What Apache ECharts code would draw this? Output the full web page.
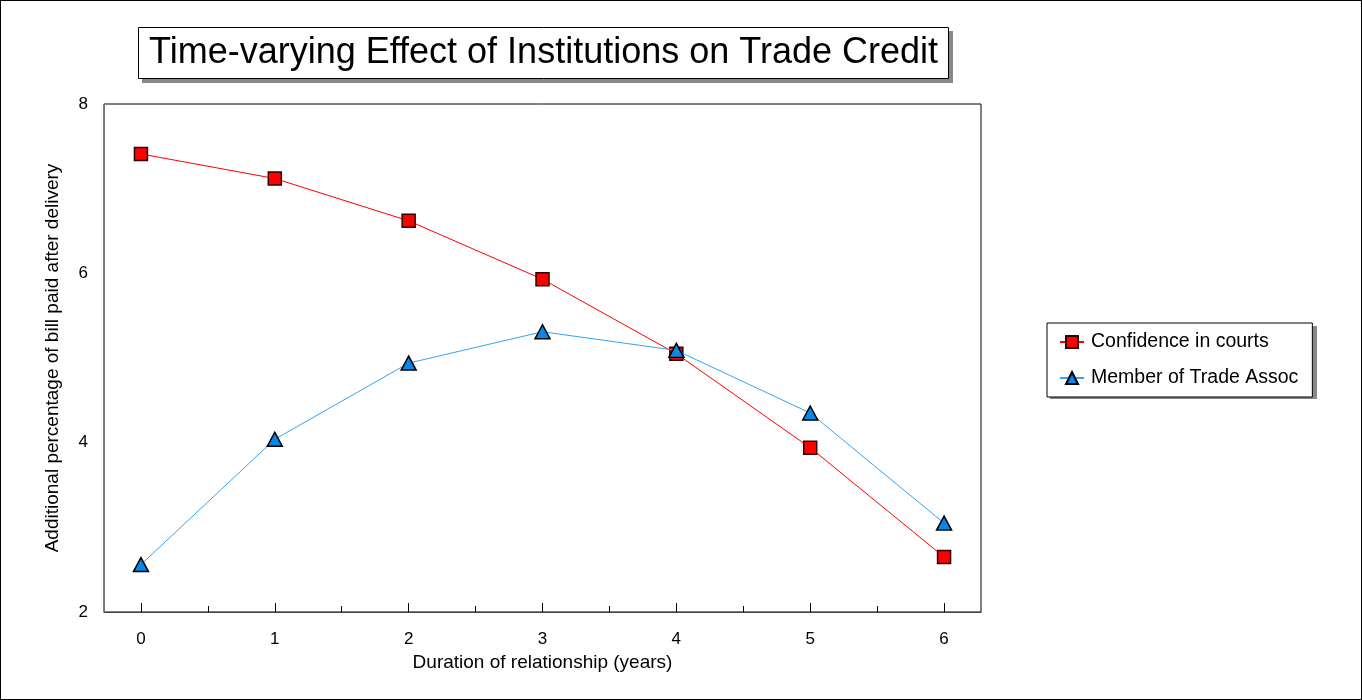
<!DOCTYPE html>
<html>
<head>
<meta charset="utf-8">
<script src="https://cdn.jsdelivr.net/npm/echarts@6/dist/echarts.min.js"></script>
<style>
html,body{margin:0;padding:0;background:#fff;}
#c{width:1360px;height:698px;border:1px solid #000;}
</style>
</head>
<body>
<div id="c"></div>
<script>
var years = [0, 1, 2, 3, 4, 5, 6];
var confidenceInCourts = [7.41, 7.12, 6.62, 5.93, 5.05, 3.94, 2.65];
var memberOfTradeAssoc = [2.56, 4.04, 4.94, 5.31, 5.09, 4.35, 3.05];
var xTickLabels = [0, 1, 2, 3, 4, 5, 6];
var xMinorTicks = [0.5, 1.5, 2.5, 3.5, 4.5, 5.5];
var yTickLabels = [2, 4, 6, 8];

function pairs(xs, ys) { return xs.map(function (x, i) { return [x, ys[i]]; }); }

var chart = echarts.init(document.getElementById('c'));
var font = 'Liberation Sans, Arial, sans-serif';
chart.setOption({
  animation: false,
  textStyle: { fontFamily: font },
  graphic: [
    { type: 'rect', z: 0, shape: { x: 141, y: 30, width: 811, height: 52 }, style: { fill: '#888' } },
    { type: 'rect', z: 0, shape: { x: 1049, y: 325, width: 267, height: 73 }, style: { fill: '#888' } }
  ],
  title: {
    text: 'Time-varying Effect of Institutions on Trade Credit',
    left: 137, top: 26,
    padding: [7, 11, 7, 11],
    borderColor: '#000', borderWidth: 1,
    backgroundColor: '#fff',
    z: 10,
    textStyle: { fontFamily: font, fontSize: 36, lineHeight: 38, fontWeight: 'normal', color: '#000' }
  },
  legend: {
    orient: 'vertical',
    left: 1046, top: 322,
    padding: [9, 14, 9, 12],
    itemGap: 16,
    itemWidth: 24, itemHeight: 15,
    borderColor: '#000', borderWidth: 1,
    backgroundColor: '#fff',
    z: 10,
    textStyle: { fontFamily: font, fontSize: 19.5, color: '#000', padding: [0, 0, 0, 2] },
    data: ['Confidence in courts', 'Member of Trade Assoc']
  },
  grid: {
    left: 103, top: 103, right: 380, bottom: 87,
    show: true, borderColor: '#000', borderWidth: 1, backgroundColor: '#fff'
  },
  xAxis: [{
    type: 'value', min: -0.276, max: 6.276,
    name: 'Duration of relationship (years)',
    nameLocation: 'middle', nameGap: 40,
    nameTextStyle: { fontFamily: font, fontSize: 19, color: '#000' },
    axisLine: { show: true, onZero: false, lineStyle: { color: '#444', width: 1 } },
    axisTick: { show: true, inside: true, length: 9, customValues: xTickLabels, lineStyle: { color: '#000' } },
    axisLabel: { customValues: xTickLabels, margin: 19, fontFamily: font, fontSize: 17, color: '#000' },
    splitLine: { show: false }
  }, {
    type: 'value', min: -0.276, max: 6.276, position: 'bottom',
    axisLine: { show: false, onZero: false },
    axisTick: { show: true, inside: true, length: 6, customValues: xMinorTicks, lineStyle: { color: '#000' } },
    axisLabel: { show: false },
    splitLine: { show: false }
  }],
  yAxis: {
    type: 'value', min: 2, max: 8, interval: 2,
    name: 'Additional percentage of bill paid after delivery',
    nameLocation: 'middle', nameGap: 42, nameRotate: 90,
    nameTextStyle: { fontFamily: font, fontSize: 19, color: '#000' },
    axisLine: { show: true, onZero: false, lineStyle: { color: '#777', width: 1 } },
    axisTick: { show: false },
    axisLabel: { margin: 16, fontFamily: font, fontSize: 17, color: '#000' },
    splitLine: { show: false }
  },
  series: [{
    name: 'Confidence in courts',
    type: 'line',
    data: pairs(years, confidenceInCourts),
    symbol: 'rect', symbolSize: 13,
    lineStyle: { color: '#FF0000', width: 1 },
    itemStyle: { color: '#FF0000', borderColor: '#300', borderWidth: 1.5 },
    z: 2
  }, {
    name: 'Member of Trade Assoc',
    type: 'line',
    data: pairs(years, memberOfTradeAssoc),
    symbol: 'triangle', symbolSize: [15, 14],
    lineStyle: { color: '#33A6F2', width: 1 },
    itemStyle: { color: '#0A86E6', borderColor: '#000', borderWidth: 1.5 },
    z: 3
  }]
});
</script>
</body>
</html>
